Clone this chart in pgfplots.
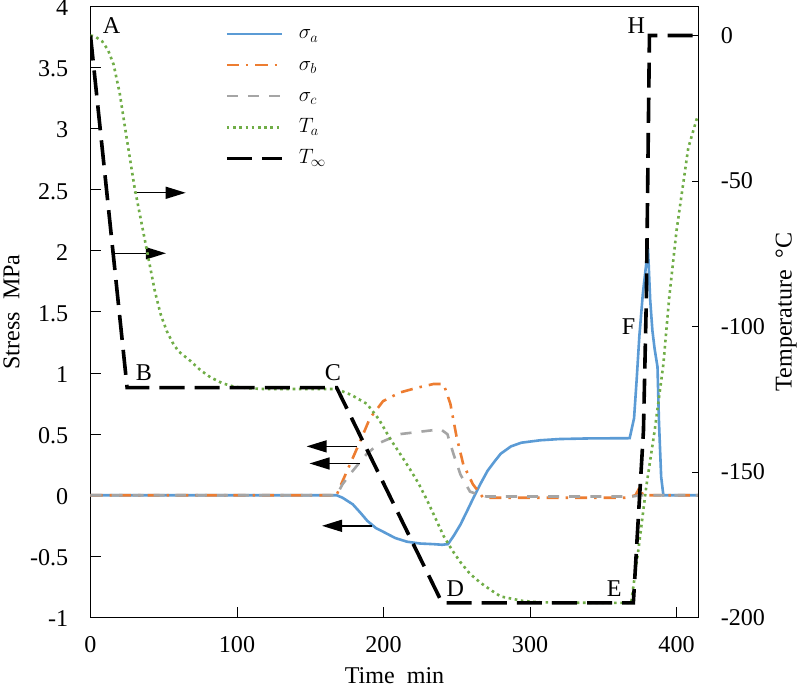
\documentclass[border=0pt]{standalone}
\usepackage{fontspec}
\setmainfont{Liberation Serif}
\usepackage{pgfplots}
\pgfplotsset{compat=1.18}
\usetikzlibrary{arrows.meta}
\definecolor{cA}{HTML}{5B9BD5}
\definecolor{cB}{HTML}{ED7D31}
\definecolor{cC}{HTML}{A5A5A5}
\definecolor{cT}{HTML}{70AD47}
\tikzset{
  sA/.style={cA, line width=2.6pt},
  sB/.style={cB, line width=2.6pt, dash pattern=on 12pt off 7pt on 2.5pt off 7pt},
  sC/.style={cC, line width=2.6pt, dash pattern=on 11pt off 10pt},
  sTa/.style={cT, line width=2.6pt, dash pattern=on 2.6pt off 3.6pt},
  sTi/.style={black, line width=3.6pt, dash pattern=on 25pt off 10pt},
  lab/.style={font=\fontsize{24}{28}\selectfont, inner sep=0pt},
  arr/.style={-{Triangle[length=20pt,width=12pt]}, line width=1.4pt, black},
}
\pgfplotsset{
  common/.style={
    scale only axis, width=606pt, height=609pt,
    xmin=0, xmax=415,
    tick align=inside,
    tick style={black, line width=0.9pt},
    axis line style={line width=1.1pt},
    /pgf/number format/assume math mode=true,
    tick label style={font=\fontsize{24}{28}\selectfont},
    label style={font=\fontsize{24}{28}\selectfont},
  },
}
\begin{document}
\begin{tikzpicture}
\begin{axis}[common,
  ymin=-1, ymax=4,
  ytick={-1,-0.5,0,0.5,1,1.5,2,2.5,3,3.5,4},
  xtick={0,100,200,300,400},
  tick pos=left,
  major tick length=10pt,
  yticklabel style={anchor=east, inner sep=0pt, xshift=-22pt, yshift=-1.5pt},
  xticklabel style={anchor=north, inner sep=0pt, yshift=-19pt},
  xlabel={Time\ \ min},
  ylabel={Stress\ \ MPa},
  xlabel style={at={(axis description cs:0.5,-0.095)}, anchor=center},
  ylabel style={at={(axis description cs:-0.13,0.5)}, anchor=center},
]
\addplot[sA] coordinates {(0,0) (168,0) (172,-0.02) (179,-0.074) (184,-0.14) (189,-0.21) (195,-0.27) (200,-0.30) (208,-0.35) (216,-0.38) (225,-0.395) (234,-0.40) (240,-0.405) (244,-0.40) (248,-0.33) (252.5,-0.24) (257,-0.13) (261.4,-0.02) (266,0.09) (271,0.20) (276,0.28) (280,0.34) (287,0.40) (294,0.43) (307,0.45) (320,0.46) (340,0.465) (368,0.467) (371,0.63) (372.8,0.95) (374.6,1.3) (377,1.65) (380.5,2.02) (382,1.6) (383.5,1.35) (385,1.2) (387,1.05) (388,0.6) (389.5,0.15) (391,0) (415,0)};
\addplot[sB] coordinates {(0,0) (168,0) (170,0.06) (177,0.25) (184,0.44) (190.7,0.63) (199.7,0.77) (211,0.84) (223,0.88) (234,0.91) (241,0.91) (245.6,0.75) (250,0.47) (254.5,0.25) (261,0.09) (268,-0.02) (300,-0.02) (365,-0.02) (372,0) (375,0.07) (377,0) (415,0)};
\addplot[sC] coordinates {(0,0) (168,0) (172,0.09) (179,0.20) (188.7,0.34) (197.6,0.43) (211,0.50) (225,0.52) (239,0.54) (243.6,0.50) (247.7,0.34) (252.5,0.17) (259,0.03) (266,0) (270,-0.01) (370,-0.01) (375,0) (415,0)};
\draw[arr] (axis cs:29.5,2.475) -- (axis cs:65,2.475);
\draw[arr] (axis cs:15.1,1.98) -- (axis cs:51.5,1.98);
\draw[arr] (axis cs:182,0.40) -- (axis cs:147.5,0.40);
\draw[arr] (axis cs:184,0.26) -- (axis cs:149.5,0.26);
\draw[arr] (axis cs:192,-0.25) -- (axis cs:158,-0.25);
\node[lab] at (axis cs:14.4,3.84) {A};
\node[lab] at (axis cs:36.4,1.0) {B};
\node[lab] at (axis cs:165.4,1.0) {C};
\node[lab] at (axis cs:249,-0.76) {D};
\node[lab] at (axis cs:357.5,-0.76) {E};
\node[lab] at (axis cs:367.2,1.38) {F};
\node[lab] at (axis cs:372.5,3.84) {H};
\end{axis}
\begin{axis}[common,
  ymin=-200, ymax=10,
  ytick={-200,-150,-100,-50,0},
  axis y line*=right,
  axis x line=none,
  major tick length=7pt,
  yticklabel style={anchor=west, inner sep=0pt, xshift=22pt},
  ylabel={Temperature\ \ °C},
  ylabel style={at={(axis description cs:1.144,0.5)}, anchor=center},
  legend image code/.code={\draw[#1] (0pt,0pt) -- (55pt,0pt); \path (68pt,0pt);},
  legend cell align=left,
  legend style={draw=none, fill=none, at={(axis description cs:0.221,0.975)}, anchor=north west,
    font=\fontsize{20.74}{25}\selectfont, row sep=7pt, inner sep=0pt,
    nodes={inner sep=2pt, text height=15pt, text depth=5pt}},
]
\addlegendimage{sA}
\addlegendentry{$\sigma_a$}
\addlegendimage{sB}
\addlegendentry{$\sigma_b$}
\addlegendimage{sC}
\addlegendentry{$\sigma_c$}
\addplot[sTa] coordinates {(0,0) (3,-0.3) (8,-2) (12,-5) (15.8,-10) (20,-20) (24,-33) (30,-52) (37,-70) (44,-88) (48,-96) (52,-101.5) (56,-105.5) (60,-108.5) (68.6,-112) (75,-115) (82,-117.5) (90,-119.5) (98,-120.7) (110,-121.3) (119,-121.5) (168,-121.5) (178,-123.5) (188.7,-126.6) (197,-132) (204.5,-138.6) (211,-143.5) (218,-149) (224,-154) (230,-160) (236,-166.5) (241,-172) (247,-177) (252.5,-181) (259,-185) (266,-188) (273,-190.5) (280,-192.8) (295,-194.3) (307,-194.8) (349,-195) (369,-195) (374,-176.6) (379.4,-154.8) (385,-136) (391,-113) (395,-90) (400,-67) (404.8,-50) (408,-38.6) (414.4,-27.6)};
\addlegendentry{$T_a$}
\addplot[sTi] coordinates {(0,0) (25,-121) (168,-121) (240,-195) (370.5,-195) (374,-165) (377.4,-136) (379.4,-90) (381.5,0) (415,0)};
\addlegendentry{$T_\infty$}
\end{axis}
\path (current axis.north) ++(0,6pt);
\path (current axis.south) ++(0,-76pt);
\end{tikzpicture}
\end{document}
